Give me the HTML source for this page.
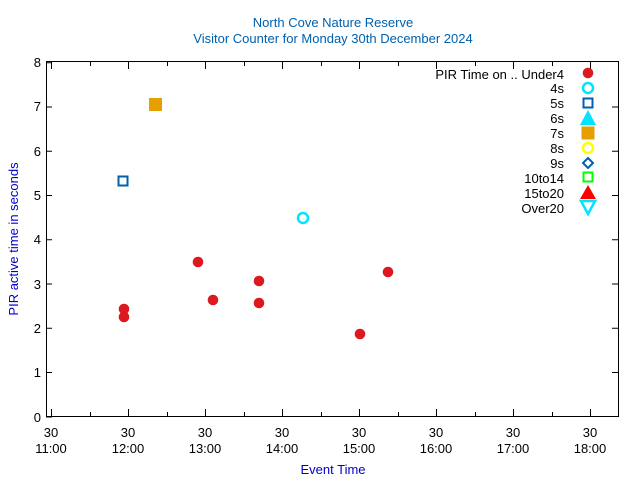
<!DOCTYPE html>
<html><head><style>
body{margin:0;background:#fff;}
svg{display:block;font-family:"Liberation Sans",sans-serif;}
</style></head><body>
<svg width="640" height="480" viewBox="0 0 640 480">
<text x="333" y="27" font-size="13" fill="#0060ad" text-anchor="middle">North Cove Nature Reserve</text>
<text x="333" y="43" font-size="13" fill="#0060ad" text-anchor="middle">Visitor Counter for Monday 30th December 2024</text>
<rect x="46.5" y="61.5" width="572" height="355" fill="none" stroke="#000" stroke-width="1"/>
<g stroke="#000" stroke-width="1">
<path d="M46 417h6M46 372.5h6M46 328.25h6M46 284h6M46 239.75h6M46 195.5h6M46 151.25h6M46 107h6M46 62.75h6"/>
<path d="M618 372.5h-6M618 328.25h-6M618 284h-6M618 239.75h-6M618 195.5h-6M618 151.25h-6M618 107h-6"/>
<path d="M51.5 416v-7M128.5 416v-7M205.5 416v-7M282.5 416v-7M359.5 416v-7M436.5 416v-7M513.5 416v-7M590.5 416v-7"/>
<path d="M90.5 416v-4M167.5 416v-4M244.5 416v-4M321.5 416v-4M398.5 416v-4M475.5 416v-4M552.5 416v-4"/>
<path d="M51.5 62v7M128.5 62v7M205.5 62v7M282.5 62v7M359.5 62v7M436.5 62v7M513.5 62v7M590.5 62v7"/>
<path d="M90.5 62v4M167.5 62v4M244.5 62v4M321.5 62v4M398.5 62v4M475.5 62v4M552.5 62v4"/>
</g>
<g font-size="13" fill="#000" text-anchor="end">
<text x="41" y="422">0</text><text x="41" y="377">1</text><text x="41" y="333">2</text><text x="41" y="289">3</text><text x="41" y="244">4</text><text x="41" y="200">5</text><text x="41" y="156">6</text><text x="41" y="111">7</text><text x="41" y="67">8</text>
</g>
<g font-size="13" fill="#000" text-anchor="middle">
<text x="51" y="437">30</text><text x="51" y="453">11:00</text>
<text x="128" y="437">30</text><text x="128" y="453">12:00</text>
<text x="205" y="437">30</text><text x="205" y="453">13:00</text>
<text x="282" y="437">30</text><text x="282" y="453">14:00</text>
<text x="359" y="437">30</text><text x="359" y="453">15:00</text>
<text x="436" y="437">30</text><text x="436" y="453">16:00</text>
<text x="513" y="437">30</text><text x="513" y="453">17:00</text>
<text x="590" y="437">30</text><text x="590" y="453">18:00</text>
</g>
<text x="333" y="474" font-size="13" fill="#0000cc" text-anchor="middle">Event Time</text>
<text transform="translate(18,239) rotate(-90)" font-size="13" fill="#0000cc" text-anchor="middle">PIR active time in seconds</text>
<g fill="#dd181f">
<circle cx="124" cy="309" r="5.3"/><circle cx="124" cy="317" r="5.3"/><circle cx="198" cy="262" r="5.3"/><circle cx="213" cy="300" r="5.3"/><circle cx="259" cy="281" r="5.3"/><circle cx="259" cy="303" r="5.3"/><circle cx="360" cy="334" r="5.3"/><circle cx="388" cy="272" r="5.3"/>
</g>
<circle cx="303" cy="218" r="5" fill="none" stroke="#00e5ff" stroke-width="2.5"/>
<rect x="118.5" y="176.5" width="9" height="9" fill="none" stroke="#0060ad" stroke-width="2"/>
<rect x="149" y="98" width="13" height="13" fill="#e69f00"/>
<g font-size="13" fill="#000" text-anchor="end">
<text x="564" y="79">PIR Time on .. Under4</text>
<text x="564" y="93">4s</text><text x="564" y="108">5s</text><text x="564" y="123">6s</text><text x="564" y="138">7s</text><text x="564" y="153">8s</text><text x="564" y="168">9s</text><text x="564" y="183">10to14</text><text x="564" y="198">15to20</text><text x="564" y="213">Over20</text>
</g>
<circle cx="588" cy="73" r="5.3" fill="#dd181f"/>
<circle cx="588" cy="88" r="5" fill="none" stroke="#00e5ff" stroke-width="2.5"/>
<rect x="583.5" y="98.5" width="9" height="9" fill="none" stroke="#0060ad" stroke-width="2"/>
<polygon points="588,110 596,125 580,125" fill="#00e5ff"/>
<rect x="581.5" y="126.5" width="13" height="13" fill="#e69f00"/>
<circle cx="588" cy="148" r="5" fill="none" stroke="#ffff00" stroke-width="2.5"/>
<polygon points="588,158 593,163 588,168 583,163" fill="none" stroke="#0060ad" stroke-width="2"/>
<rect x="583.5" y="172.5" width="9" height="9" fill="none" stroke="#00ff00" stroke-width="2"/>
<polygon points="588,185 596,199 580,199" fill="#ff0000"/>
<polygon points="581,201 595,201 588,214" fill="none" stroke="#00e5ff" stroke-width="2.5"/>
</svg>
</body></html>
